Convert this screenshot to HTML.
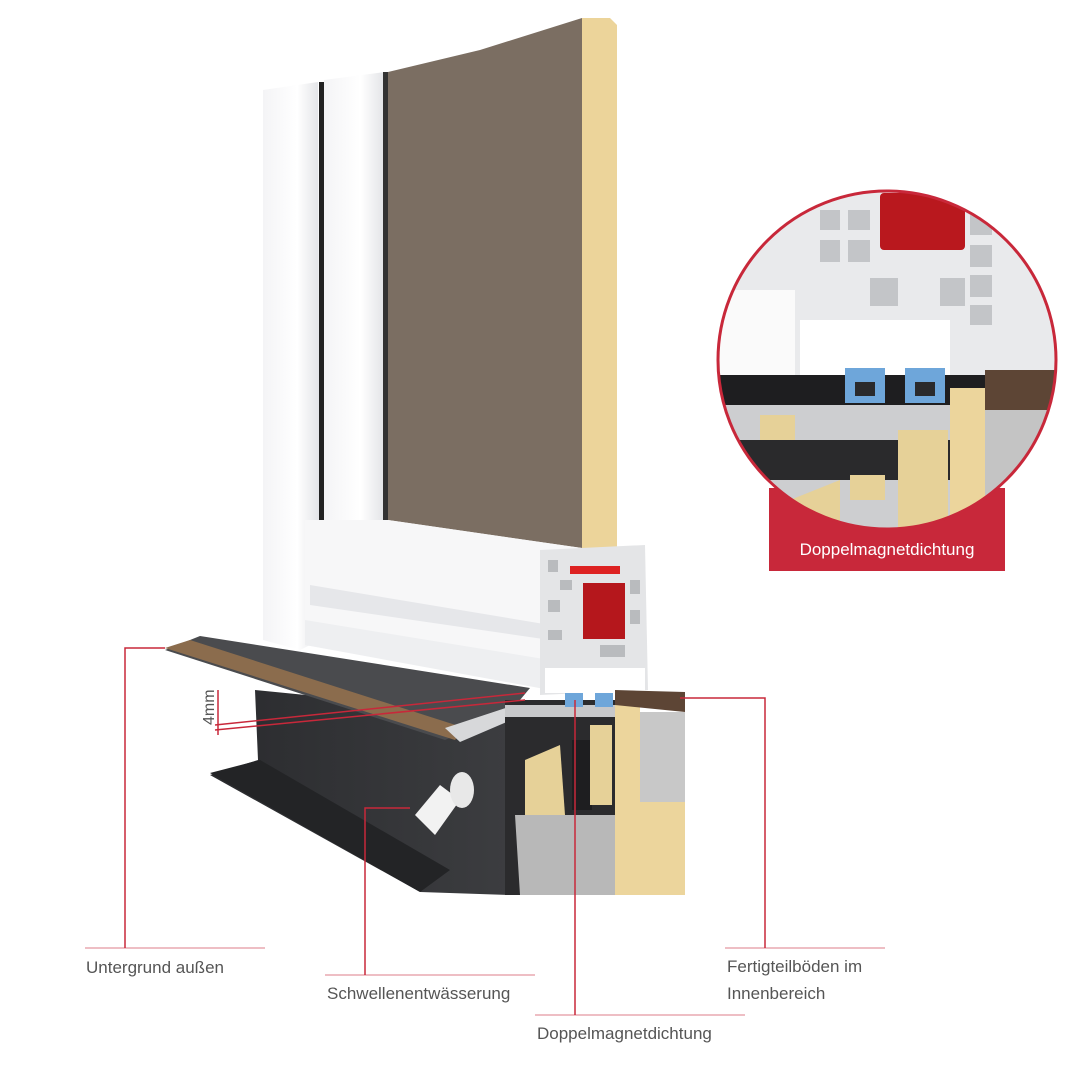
<!DOCTYPE html>
<html><head><meta charset="utf-8"><style>
html,body{margin:0;padding:0;background:#fff}
svg{display:block}
text{font-family:"Liberation Sans",sans-serif}
</style></head><body>
<svg width="1080" height="1080" viewBox="0 0 1080 1080" xmlns="http://www.w3.org/2000/svg">
<defs>
<linearGradient id="wg" x1="0" x2="1"><stop offset="0" stop-color="#f4f4f6"/><stop offset="0.6" stop-color="#ffffff"/><stop offset="1" stop-color="#e2e3e6"/></linearGradient>
<linearGradient id="dk" x1="0" x2="1"><stop offset="0" stop-color="#2a2b2e"/><stop offset="1" stop-color="#3c3d40"/></linearGradient>
<clipPath id="cc"><circle cx="887" cy="360" r="169"/></clipPath>
</defs>

<!-- white frame strips -->
<polygon points="263,90 318,82 320,640 300,650 263,640" fill="url(#wg)"/>
<rect x="319" y="82" width="5" height="560" fill="#222"/>
<polygon points="324,80 385,72 385,520 324,540" fill="url(#wg)"/>
<rect x="383" y="72" width="5" height="450" fill="#333"/>
<!-- brown panel -->
<polygon points="388,72 480,50 582,18 582,548 388,520" fill="#7b6e62"/>
<!-- yellow edge -->
<polygon points="582,18 610,18 617,25 617,565 582,565" fill="#ecd49a"/>
<!-- bottom rail -->
<polygon points="305,520 388,520 582,548 560,560 560,690 305,645" fill="#f7f7f8"/>
<polygon points="310,585 550,625 550,640 310,605" fill="#e6e7ea"/>
<polygon points="305,620 550,660 550,690 305,645" fill="#eeeff1"/>
<!-- profile section -->
<polygon points="540,550 645,545 648,690 540,695" fill="#e4e5e7"/>
<g fill="#b9bbbe">
<rect x="548" y="560" width="10" height="12"/><rect x="560" y="580" width="12" height="10"/><rect x="548" y="600" width="12" height="12"/><rect x="630" y="580" width="10" height="14"/><rect x="630" y="610" width="10" height="14"/><rect x="548" y="630" width="14" height="10"/><rect x="600" y="645" width="25" height="12"/>
</g>
<rect x="570" y="566" width="50" height="8" fill="#d22"/>
<rect x="583" y="583" width="42" height="56" fill="#b5171c"/>
<rect x="545" y="668" width="100" height="25" fill="#fff"/>
<!-- dark box -->
<polygon points="255,690 510,715 510,895 420,892 210,775 258,760" fill="url(#dk)"/>
<polygon points="210,773 260,760 450,870 420,892" fill="#232426"/>
<!-- sill -->
<polygon points="200,636 530,688 510,712 445,740 165,650" fill="#4a4b4e"/>
<polygon points="165,648 190,640 465,728 455,740" fill="#8b6c4d"/>
<polygon points="445,728 530,700 530,712 460,742" fill="#d7d8da"/>
<!-- section -->
<rect x="505" y="700" width="110" height="195" fill="#2b2b2d"/>
<polygon points="515,815 615,815 615,895 520,895" fill="#b8b8b8"/>
<polygon points="525,760 560,745 565,815 525,815" fill="#e6d198"/>
<rect x="572" y="740" width="20" height="70" fill="#1e1e20"/>
<rect x="590" y="725" width="22" height="80" fill="#e6d198"/>
<rect x="505" y="705" width="110" height="12" fill="#c7c8ca"/>
<rect x="565" y="693" width="18" height="14" fill="#6ea6da"/>
<rect x="595" y="693" width="18" height="14" fill="#6ea6da"/>
<rect x="615" y="700" width="25" height="195" fill="#ecd59c"/>
<rect x="640" y="712" width="45" height="90" fill="#c8c8c8"/>
<rect x="640" y="802" width="45" height="93" fill="#ecd59c"/>
<polygon points="615,690 685,692 685,712 615,705" fill="#5d4535"/>
<!-- drain -->
<polygon points="415,815 440,785 460,800 435,835" fill="#f2f2f2"/>
<ellipse cx="462" cy="790" rx="12" ry="18" fill="#e8e8e8"/>

<!-- 4mm -->
<line x1="218" y1="690" x2="218" y2="735" stroke="#c8283a" stroke-width="1.5"/>
<line x1="215" y1="725" x2="525" y2="693" stroke="#c8283a" stroke-width="1.5"/>
<line x1="215" y1="730" x2="525" y2="700" stroke="#c8283a" stroke-width="1.5"/>
<text x="0" y="0" transform="translate(214,725) rotate(-90)" font-size="16" fill="#555">4mm</text>

<!-- leader lines -->
<g stroke="#c8283a" stroke-width="1.5" fill="none">
<polyline points="165,648 125,648 125,948"/>
<polyline points="410,808 365,808 365,975"/>
<line x1="575" y1="700" x2="575" y2="1015"/>
<polyline points="680,698 765,698 765,948"/>
</g>
<g stroke="#c8283a" stroke-width="1" opacity="0.6">
<line x1="85" y1="948" x2="265" y2="948"/>
<line x1="325" y1="975" x2="535" y2="975"/>
<line x1="535" y1="1015" x2="745" y2="1015"/>
<line x1="725" y1="948" x2="885" y2="948"/>
</g>
<g font-size="17" fill="#555">
<text x="86" y="973">Untergrund außen</text>
<text x="327" y="999">Schwellenentwässerung</text>
<text x="537" y="1039">Doppelmagnetdichtung</text>
<text x="727" y="972">Fertigteilböden im</text>
<text x="727" y="999">Innenbereich</text>
</g>

<!-- circle detail -->
<rect x="769" y="488" width="236" height="83" fill="#c8283a"/>
<g clip-path="url(#cc)">
<rect x="700" y="180" width="380" height="360" fill="#e9eaec"/>
<g fill="#c3c5c8">
<rect x="820" y="210" width="20" height="20"/><rect x="848" y="210" width="22" height="20"/><rect x="820" y="240" width="20" height="22"/><rect x="848" y="240" width="22" height="22"/><rect x="970" y="215" width="22" height="20"/><rect x="970" y="245" width="22" height="22"/><rect x="970" y="275" width="22" height="22"/><rect x="970" y="305" width="22" height="20"/><rect x="870" y="278" width="28" height="28"/><rect x="940" y="278" width="25" height="28"/>
</g>
<rect x="880" y="193" width="85" height="57" rx="4" fill="#b9181e"/>
<rect x="700" y="290" width="95" height="90" fill="#fafafa"/>
<rect x="800" y="320" width="150" height="55" fill="#fff"/>
<rect x="700" y="375" width="380" height="30" fill="#1e1e20"/>
<rect x="700" y="405" width="380" height="135" fill="#cdced0"/>
<rect x="700" y="440" width="260" height="40" fill="#2a2a2c"/>
<rect x="760" y="415" width="35" height="25" fill="#e6d198"/>
<rect x="850" y="475" width="35" height="25" fill="#e6d198"/>
<polygon points="790,500 840,480 840,540 790,540" fill="#e6d198"/>
<rect x="898" y="430" width="50" height="110" fill="#e6d198"/>
<rect x="950" y="388" width="35" height="140" fill="#ecd59c"/>
<rect x="985" y="370" width="80" height="40" fill="#5d4535"/>
<rect x="985" y="410" width="80" height="130" fill="#c4c4c4"/>
<rect x="845" y="368" width="40" height="35" fill="#6ea6da"/>
<rect x="905" y="368" width="40" height="35" fill="#6ea6da"/>
<rect x="855" y="382" width="20" height="14" fill="#2a2a2c"/>
<rect x="915" y="382" width="20" height="14" fill="#2a2a2c"/>
</g>
<circle cx="887" cy="360" r="169" fill="none" stroke="#c8283a" stroke-width="3"/>
<text x="887" y="555" font-size="17" fill="#fff" text-anchor="middle">Doppelmagnetdichtung</text>
</svg>
</body></html>
